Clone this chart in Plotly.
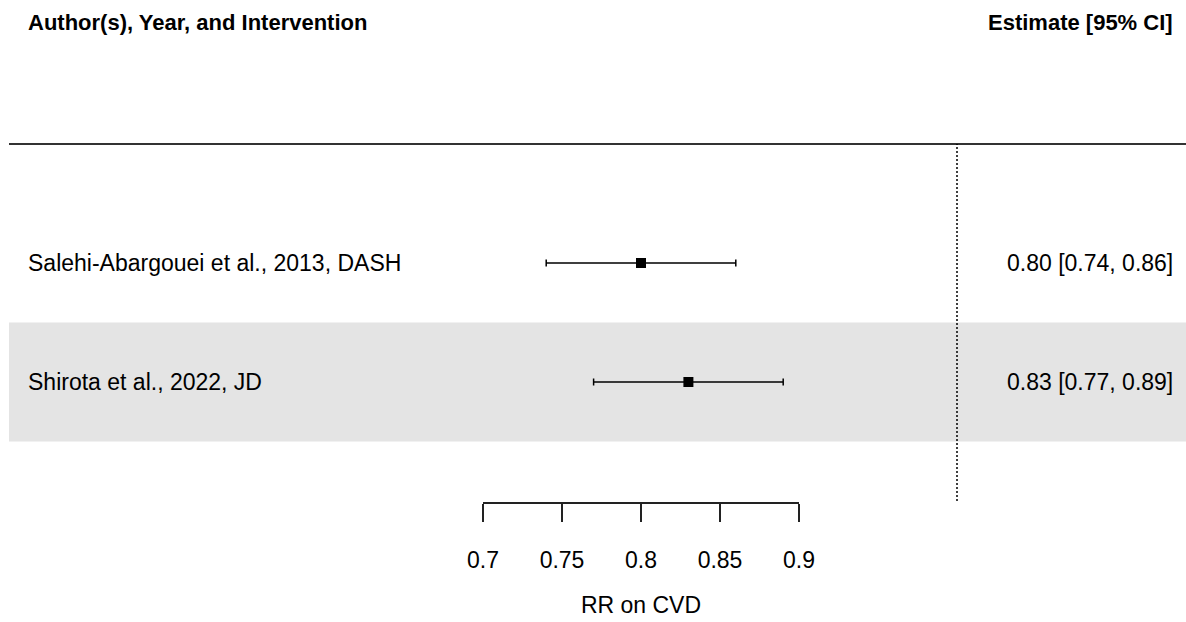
import plotly.graph_objects as go

# ---- data ----
studies = ["Salehi-Abargouei et al., 2013, DASH", "Shirota et al., 2022, JD"]
estimates = [0.80, 0.83]
ci_lower = [0.74, 0.77]
ci_upper = [0.86, 0.89]
tick_values = [0.7, 0.75, 0.8, 0.85, 0.9]
tick_labels = ["0.7", "0.75", "0.8", "0.85", "0.9"]
ref_value = 1.0
header_left = "Author(s), Year, and Intervention"
header_right = "Estimate [95% CI]"
x_title = "RR on CVD"

# ---- layout geometry ----
W, H = 1186, 622
MB = 120
ax_px0, ax_px1 = 483, 799          # pixel span of the visible axis
ppu = (ax_px1 - ax_px0) / (tick_values[-1] - tick_values[0])
x_lo = tick_values[0] - ax_px0 / ppu
x_hi = tick_values[0] + (W - ax_px0) / ppu
row_step = 119
y_top = 1 + 382 / row_step
y_bot = 1 - (H - MB - 382) / row_step

k = len(studies)
rows = [k - i for i in range(k)]   # top study gets highest row

FONT = "Liberation Sans, Arial, Helvetica, sans-serif"
FS = 23
FSB = 22

fig = go.Figure()

# study estimates with CIs on the visible axis (x2)
fig.add_trace(go.Scatter(
    x=estimates, y=rows, xaxis="x2", yaxis="y",
    mode="markers",
    marker=dict(symbol="square", size=10, color="black"),
    error_x=dict(type="data", symmetric=False,
                 array=[u - e for u, e in zip(ci_upper, estimates)],
                 arrayminus=[e - l for e, l in zip(estimates, ci_lower)],
                 color="black", thickness=1.5, width=3.5),
    hoverinfo="skip", showlegend=False, cliponaxis=False,
))

shapes = []
# alternating gray band behind second row
for i, r in enumerate(rows):
    if i % 2 == 1:
        shapes.append(dict(type="rect", xref="x", yref="y",
                           x0=x_lo + 9 / ppu, x1=x_hi + 1, y0=r - 0.5, y1=r + 0.5,
                           fillcolor="#e4e4e4", line=dict(width=0), layer="below"))
# horizontal header line
shapes.append(dict(type="line", xref="x", yref="y",
                   x0=x_lo + 9 / ppu, x1=x_hi + 1, y0=k + 1, y1=k + 1,
                   line=dict(color="#333333", width=2)))
# reference (null) line
shapes.append(dict(type="line", xref="x", yref="y",
                   x0=ref_value, x1=ref_value, y0=0, y1=k + 1,
                   line=dict(color="black", width=1.5, dash="2px,2px")))

annotations = []
lab_x = x_lo + 26 / ppu
est_x = x_lo + 1175 / ppu
for s, r, e, lo, hi in zip(studies, rows, estimates, ci_lower, ci_upper):
    annotations.append(dict(x=lab_x, y=r, xref="x", yref="y", text=s,
                            xanchor="left", yanchor="middle", showarrow=False,
                            font=dict(family=FONT, size=FS, color="black")))
    annotations.append(dict(x=est_x, y=r, xref="x", yref="y",
                            text=f"{e:.2f} [{lo:.2f}, {hi:.2f}]",
                            xanchor="right", yanchor="middle", showarrow=False,
                            font=dict(family=FONT, size=FS, color="black")))
head_y = 1 + (382 - 22) / row_step
annotations.append(dict(x=lab_x, y=head_y, xref="x", yref="y",
                        text=f"<b>{header_left}</b>", xanchor="left", yanchor="middle",
                        showarrow=False, font=dict(family=FONT, size=FSB, color="black")))
annotations.append(dict(x=est_x, y=head_y, xref="x", yref="y",
                        text=f"<b>{header_right}</b>", xanchor="right", yanchor="middle",
                        showarrow=False, font=dict(family=FONT, size=FSB, color="black")))

fig.update_layout(
    width=W, height=H,
    margin=dict(l=0, r=0, t=0, b=MB, autoexpand=False),
    paper_bgcolor="white", plot_bgcolor="rgba(0,0,0,0)",
    showlegend=False,
    xaxis=dict(domain=[0, 1], range=[x_lo, x_hi], visible=False, fixedrange=True,
               automargin=False),
    xaxis2=dict(domain=[ax_px0 / W, ax_px1 / W], range=[tick_values[0], tick_values[-1]],
                anchor="y", showgrid=False, zeroline=False, automargin=False,
                showline=True, linecolor="#222222", linewidth=1.5,
                ticks="outside", ticklen=18, tickwidth=1.5, tickcolor="#222222",
                tickvals=tick_values, ticktext=tick_labels,
                tickfont=dict(family=FONT, size=FS, color="black"),
                ticklabelstandoff=19,
                title=dict(text=x_title, font=dict(family=FONT, size=FS, color="black"),
                           standoff=25),
                fixedrange=True),
    yaxis=dict(domain=[0, 1], range=[y_bot, y_top], visible=False, fixedrange=True,
               automargin=False),
    shapes=shapes, annotations=annotations,
)

fig.write_html("out.html")
